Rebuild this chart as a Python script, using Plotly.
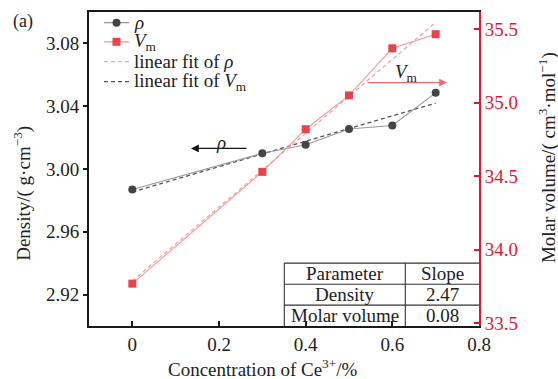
import numpy as np
import plotly.graph_objects as go

# ---------------- data ----------------
conc = [0, 0.3, 0.4, 0.5, 0.6, 0.7]
density = [2.987, 3.010, 3.0155, 3.0255, 3.0277, 3.0485]
molar_volume = [33.77, 34.53, 34.82, 35.05, 35.37, 35.466]

x_ticks = [0, 0.2, 0.4, 0.6, 0.8]
x_ticktext = ["0", "0.2", "0.4", "0.6", "0.8"]
y1_ticks = [2.92, 2.96, 3.00, 3.04, 3.08]
y1_ticktext = ["2.92", "2.96", "3.00", "3.04", "3.08"]
y2_ticks = [33.5, 34.0, 34.5, 35.0, 35.5]
y2_ticktext = ["33.5", "34.0", "34.5", "35.0", "35.5"]

table_header = ["Parameter", "Slope"]
table_params = ["Density", "Molar volume"]
table_slopes = ["2.47", "0.08"]

legend_labels = ["<i>ρ</i>", "<i>V</i><sub>m</sub>", "linear fit of <i>ρ</i>", "linear fit of <i>V</i><sub>m</sub>"]

# ---------------- style ----------------
FONT = "Liberation Serif"
RED = "#e3172b"
RHO_MARK = "#454545"
RHO_LINE = "#999999"
VM_MARK = "#e8434b"
VM_LINE = "#f59a9a"
RHO_FIT = "#555555"
VM_FIT = "#f4a3a3"
TXT = "#222222"
DASH = "4px,3px"

W, H = 558, 379
L, R, T, B = 89, 479, 10, 326


def px(xp):
    return (xp - L) / (R - L)


def py(yp):
    return (B - yp) / (B - T)


def label(text, x, y, size=19, color=TXT, angle=0, xa="center", ya="middle"):
    return dict(text=text, xref="paper", yref="paper", x=px(x), y=py(y),
                xanchor=xa, yanchor=ya, showarrow=False, textangle=angle,
                font=dict(family=FONT, size=size, color=color))


# linear fits
p_rho = np.polyfit(conc, density, 1)
p_vm = np.polyfit(conc, molar_volume, 1)
fit_x = [conc[0], conc[-1]]
fit_rho = list(np.polyval(p_rho, fit_x))
fit_vm = list(np.polyval(p_vm, fit_x))

fig = go.Figure()

fig.add_trace(go.Scatter(x=fit_x, y=fit_rho, mode="lines", yaxis="y",
                         line=dict(color=RHO_FIT, width=1.3, dash=DASH), showlegend=False))
fig.add_trace(go.Scatter(x=fit_x, y=fit_vm, mode="lines", yaxis="y2",
                         line=dict(color=VM_FIT, width=1.3, dash=DASH), showlegend=False))
fig.add_trace(go.Scatter(x=conc, y=density, mode="lines+markers", yaxis="y",
                         line=dict(color=RHO_LINE, width=1.1),
                         marker=dict(symbol="circle", size=8, color=RHO_MARK), showlegend=False))
fig.add_trace(go.Scatter(x=conc, y=molar_volume, mode="lines+markers", yaxis="y2",
                         line=dict(color=VM_LINE, width=1.1),
                         marker=dict(symbol="square", size=8, color=VM_MARK), showlegend=False))

shapes = []
annotations = []

# ---- manual legend ----
rows = [20.7, 40, 60, 80]
leg_styles = [
    dict(color=RHO_LINE, dash="solid", mark="circle", mcolor=RHO_MARK),
    dict(color=VM_LINE, dash="solid", mark="rect", mcolor=VM_MARK),
    dict(color=VM_FIT, dash=DASH, mark=None, mcolor=None),
    dict(color=RHO_FIT, dash=DASH, mark=None, mcolor=None),
]
for yrow, st, lab in zip(rows, leg_styles, legend_labels):
    shapes.append(dict(type="line", xref="paper", yref="paper",
                       x0=px(104), x1=px(129), y0=py(yrow), y1=py(yrow),
                       line=dict(color=st["color"], width=1.3, dash=st["dash"])))
    if st["mark"]:
        shapes.append(dict(type=st["mark"], xref="paper", yref="paper",
                           xsizemode="pixel", ysizemode="pixel",
                           xanchor=px(116.5), yanchor=py(yrow),
                           x0=-4, x1=4, y0=-4, y1=4,
                           fillcolor=st["mcolor"], line=dict(width=0)))
    annotations.append(label(lab, 132, yrow, xa="left"))

# ---- table ----
tl, tm, tr = 284.3, 405.3, 479.3
trows = [262.7, 284, 305, 326]
tline = dict(color="#333333", width=1.1)
for yy in trows[:-1]:
    shapes.append(dict(type="line", xref="paper", yref="paper", x0=px(tl), x1=px(tr),
                       y0=py(yy), y1=py(yy), line=tline))
shapes.append(dict(type="line", xref="paper", yref="paper", x0=px(tl), x1=px(tl),
                   y0=py(trows[0]), y1=py(trows[-1]), line=tline))
shapes.append(dict(type="line", xref="paper", yref="paper", x0=px(tm), x1=px(tm),
                   y0=py(trows[0]), y1=py(trows[-1]), line=tline))
cells = [table_header] + [[p, s] for p, s in zip(table_params, table_slopes)]
for i, row in enumerate(cells):
    yc = (trows[i] + trows[i + 1]) / 2
    for j, txt in enumerate(row):
        xc = (tl + tm) / 2 if j == 0 else (tm + tr) / 2
        annotations.append(label(txt, xc, yc))

# ---- arrows ----
annotations.append(dict(xref="paper", yref="paper", x=px(191), y=py(147.3),
                        ax=57, ay=0, showarrow=True, xanchor="center", yanchor="middle",
                        arrowhead=2, arrowsize=1.2, arrowwidth=1.3, arrowcolor="#111111", text=""))
annotations.append(label("<i>ρ</i>", 221, 141))
annotations.append(dict(xref="paper", yref="paper", x=px(447), y=py(81),
                        ax=-81, ay=0, showarrow=True, xanchor="center", yanchor="middle",
                        arrowhead=2, arrowsize=1.2, arrowwidth=1.3, arrowcolor="#f06a6a", text=""))
annotations.append(label("<i>V</i><sub>m</sub>", 406, 71))

# ---- titles ----
annotations.append(label("(a)", 23, 20, size=18))
annotations.append(label("Concentration of Ce<sup>3+</sup>/%", 263, 368))
annotations.append(label("Density/( g·cm<sup>−3</sup>)", 23, 193, angle=-90))
annotations.append(label("Molar volume/( cm<sup>3</sup>·mol<sup>−1</sup>)", 547, 157, angle=-90))

fig.update_layout(
    width=W, height=H,
    margin=dict(l=L, r=W - R, t=T, b=H - B, pad=0),
    paper_bgcolor="white", plot_bgcolor="white",
    showlegend=False,
    shapes=shapes, annotations=annotations,
    xaxis=dict(range=[-0.1, 0.8], tickvals=x_ticks, ticktext=x_ticktext,
               showgrid=False, zeroline=False, showline=True, linecolor="#1a1a1a", linewidth=2,
               mirror=True, ticks="inside", ticklen=5, tickwidth=1.5, tickcolor="#1a1a1a",
               tickfont=dict(family=FONT, size=19, color=TXT)),
    yaxis=dict(range=[2.90, 3.10], tickvals=y1_ticks, ticktext=y1_ticktext,
               showgrid=False, zeroline=False, showline=True, linecolor="#1a1a1a", linewidth=2,
               ticks="outside", ticklen=4, tickwidth=1.5, tickcolor="#1a1a1a",
               tickfont=dict(family=FONT, size=19, color=TXT)),
    yaxis2=dict(range=[33.482, 35.617], tickvals=y2_ticks, ticktext=y2_ticktext,
                overlaying="y", side="right",
                showgrid=False, zeroline=False, showline=True, linecolor=RED, linewidth=2,
                ticks="inside", ticklen=5, tickwidth=1.5, tickcolor=RED,
                tickfont=dict(family=FONT, size=19, color=RED)),
)

fig.write_html("out.html")
